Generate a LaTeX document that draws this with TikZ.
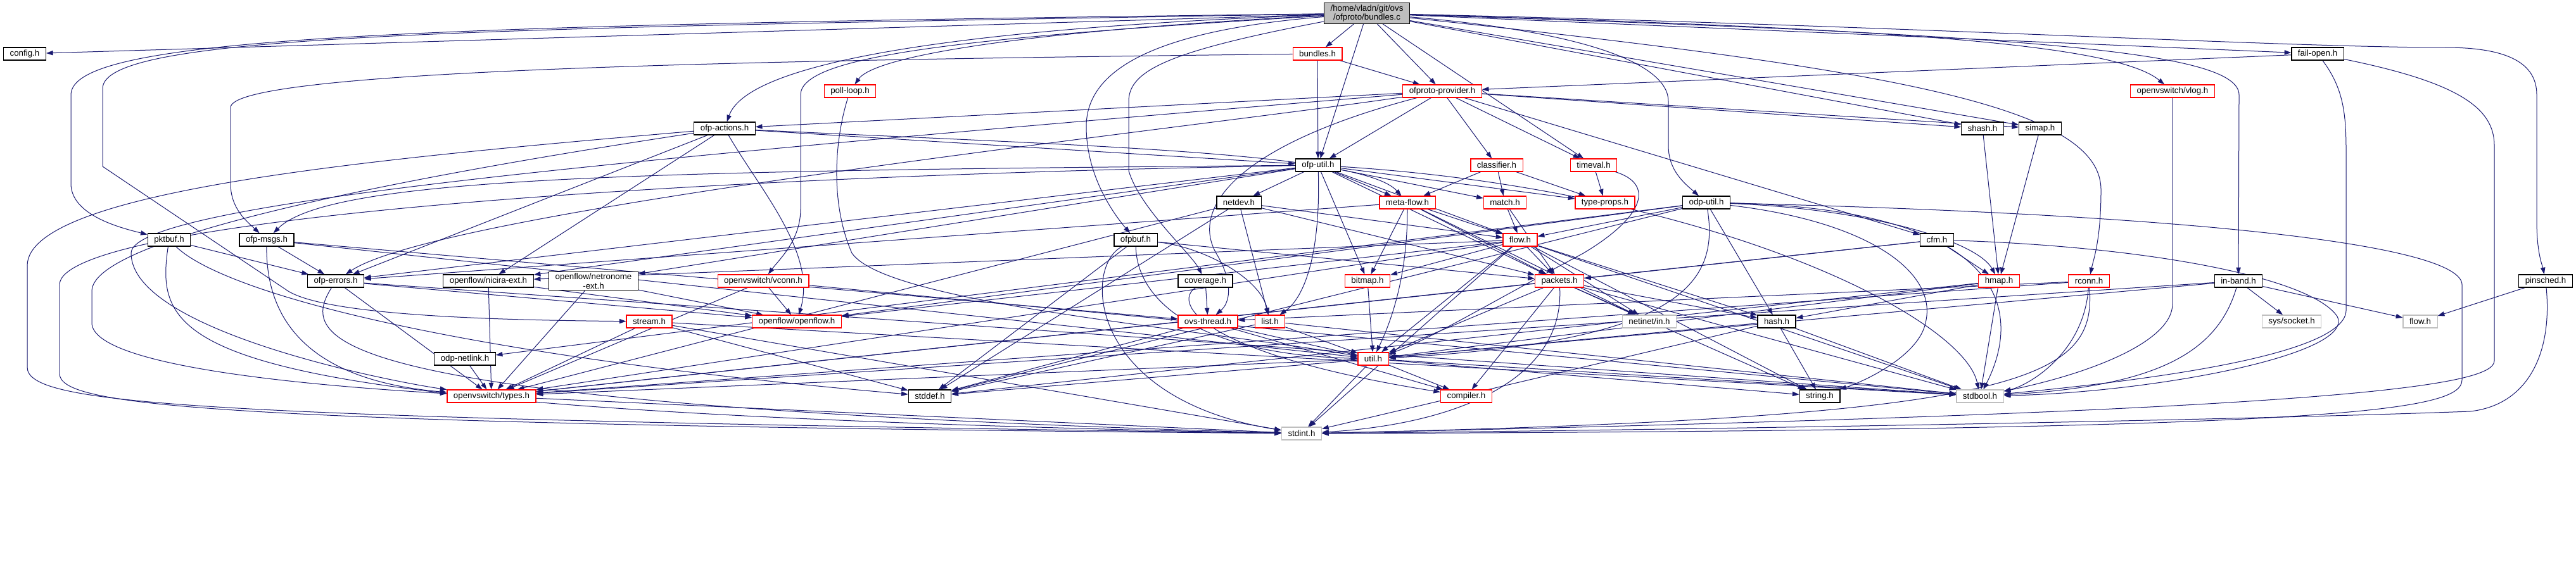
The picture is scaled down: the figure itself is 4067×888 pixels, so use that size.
\documentclass[tikz,border=0pt]{standalone}
\usepackage{fontspec}
\setmainfont{Liberation Sans}
\usetikzlibrary{arrows.meta}
\definecolor{edgeblue}{HTML}{191970}
\definecolor{rootgray}{HTML}{BFBFBF}
\definecolor{sysgray}{HTML}{BFBFBF}
\pgfdeclarelayer{bg}
\pgfsetlayers{bg,main}
\begin{document}
\begin{tikzpicture}[
    x=0.75pt,y=-0.75pt,
    file/.style={draw=black,line width=0.9pt,fill=white,inner xsep=7.5pt,inner ysep=2pt,minimum height=15pt,font=\fontsize{10pt}{11pt}\selectfont},
    trunc/.style={file,draw=red},
    sysh/.style={file,draw=sysgray},
    arr/.style={-{Triangle[length=8pt,width=5.5pt]},draw=edgeblue,line width=0.75pt}
]
\useasboundingbox (0,0) rectangle (4067,888);
\node[file,fill=rootgray,align=center] (root) at (2158,21) {/home/vladn/git/ovs\\/ofproto/bundles.c};
\node[file] (config) at (39,85) {config.h};
\node[trunc] (bundlesh) at (2080,85) {bundles.h};
\node[file] (failopen) at (3659,85) {fail-open.h};
\node[trunc] (pollloop) at (1342,144) {poll-loop.h};
\node[trunc] (provider) at (2277,144) {ofproto-provider.h};
\node[trunc] (vlog) at (3430,144) {openvswitch/vlog.h};
\node[file] (actions) at (1144,203) {ofp-actions.h};
\node[file] (shash) at (3130,203) {shash.h};
\node[file] (simap) at (3221,203) {simap.h};
\node[file] (ofputil) at (2081,261) {ofp-util.h};
\node[trunc] (classifier) at (2363,261) {classifier.h};
\node[trunc] (timeval) at (2516,261) {timeval.h};
\node[file] (netdev) at (1956,320) {netdev.h};
\node[trunc] (metaflow) at (2222,320) {meta-flow.h};
\node[trunc] (match) at (2376,320) {match.h};
\node[trunc] (typeprops) at (2534,320) {type-props.h};
\node[file] (odputil) at (2694,320) {odp-util.h};
\node[file] (pktbuf) at (267,379) {pktbuf.h};
\node[file] (msgs) at (421,379) {ofp-msgs.h};
\node[file] (ofpbuf) at (1793,379) {ofpbuf.h};
\node[trunc] (flow) at (2400,379) {flow.h};
\node[file] (cfm) at (3058,379) {cfm.h};
\node[file] (errors) at (530,444) {ofp-errors.h};
\node[file] (nicira) at (771,444) {openflow/nicira-ext.h};
\node[file,align=center] (netronome) at (937,444) {openflow/netronome\\-ext.h};
\node[trunc] (vconn) at (1205,444) {openvswitch/vconn.h};
\node[file] (coverage) at (1903,444) {coverage.h};
\node[trunc] (bitmap) at (2159,444) {bitmap.h};
\node[trunc] (packets) at (2462,444) {packets.h};
\node[trunc] (hmap) at (3156,444) {hmap.h};
\node[trunc] (rconn) at (3298,444) {rconn.h};
\node[file] (inband) at (3534,444) {in-band.h};
\node[file] (pinsched) at (4019,444) {pinsched.h};
\node[trunc] (stream) at (1025,508) {stream.h};
\node[trunc] (openflow) at (1258,508) {openflow/openflow.h};
\node[trunc] (thread) at (1907,508) {ovs-thread.h};
\node[trunc] (list) at (2005,508) {list.h};
\node[sysh] (netinet) at (2604,508) {netinet/in.h};
\node[file] (hash) at (2805,508) {hash.h};
\node[sysh] (socket) at (3618,508) {sys/socket.h};
\node[sysh] (flowsys) at (3821,508) {flow.h};
\node[file] (netlink) at (734,567) {odp-netlink.h};
\node[trunc] (util) at (2168,567) {util.h};
\node[trunc] (types) at (776,626) {openvswitch/types.h};
\node[file] (stddef) at (1468,626) {stddef.h};
\node[trunc] (compiler) at (2315,626) {compiler.h};
\node[file] (string) at (2873,626) {string.h};
\node[sysh] (stdbool) at (3126,626) {stdbool.h};
\node[sysh] (stdint) at (2055,685) {stdint.h};
\begin{pgfonlayer}{bg}
\draw[arr] (root) -- (config);
\draw[arr] (root) .. controls (600,40) and (112,60) .. (112,150) -- (112,290) .. controls (112,340) and (190,360) .. (pktbuf);
\draw[arr] (root) .. controls (700,45) and (162,55) .. (162,140) -- (162,263) -- (455,460) .. controls (520,500) and (800,506) .. (stream);
\draw[arr] (root) .. controls (1500,45) and (1180,100) .. (actions);
\draw[arr] (root) .. controls (1600,50) and (1380,90) .. (pollloop);
\draw[arr] (root) -- (bundlesh);
\draw[arr] (root) -- (provider);
\draw[arr] (root) -- (ofputil);
\draw[arr] (root) -- (timeval);
\draw[arr] (root) .. controls (1800,50) and (1715,120) .. (1715,200) .. controls (1715,280) and (1760,340) .. (ofpbuf);
\draw[arr] (root) .. controls (1850,80) and (1782,110) .. (1782,160) -- (1782,270) .. controls (1800,330) and (1880,400) .. (coverage);
\draw[arr] (root) .. controls (1500,60) and (1264,90) .. (1264,150) -- (1264,330) .. controls (1264,380) and (1230,410) .. (vconn);
\draw[arr] (root) .. controls (2500,50) and (2634,100) .. (2634,160) -- (2634,230) .. controls (2634,270) and (2660,290) .. (odputil);
\draw[arr] (root) -- (shash);
\draw[arr] (root) -- (simap);
\draw[arr] (root) .. controls (3000,110) and (3317,170) .. (3317,300) .. controls (3317,380) and (3305,410) .. (rconn);
\draw[arr] (root) .. controls (3000,45) and (3340,70) .. (vlog);
\draw[arr] (root) -- (failopen);
\draw[arr] (root) .. controls (3200,55) and (3535,80) .. (3535,150) -- (inband);
\draw[arr] (root) .. controls (3000,40) and (3600,75) .. (3860,75) .. controls (3960,75) and (4005,100) .. (4005,150) -- (4005,350) .. controls (4005,400) and (4014,420) .. (pinsched);
\draw[arr] (bundlesh) -- (provider);
\draw[arr] (bundlesh) -- (ofputil);
\draw[arr] (bundlesh) .. controls (1200,95) and (364,110) .. (364,170) -- (364,290) .. controls (364,330) and (390,350) .. (msgs);
\draw[arr] (failopen) -- (provider);
\draw[arr] (failopen) .. controls (3700,140) and (3704,180) .. (3704,240) -- (3704,490) .. controls (3704,560) and (3400,600) .. (stdbool);
\draw[arr] (failopen) .. controls (3880,130) and (3938,170) .. (3938,230) -- (3938,570) .. controls (3938,610) and (3700,650) .. (stdint);
\draw[arr] (pollloop) .. controls (1318,220) and (1310,320) .. (1345,400) .. controls (1400,480) and (1900,520) .. (util);
\draw[arr] (provider) -- (actions);
\draw[arr] (provider) -- (ofputil);
\draw[arr] (provider) -- (classifier);
\draw[arr] (provider) -- (timeval);
\draw[arr] (provider) -- (cfm);
\draw[arr] (provider) -- (shash);
\draw[arr] (provider) -- (simap);
\draw[arr] (provider) .. controls (1900,200) and (700,330) .. (errors);
\draw[arr] (provider) .. controls (1950,230) and (1880,330) .. (1920,400) .. controls (1950,450) and (1940,480) .. (thread);
\draw[arr] (provider) .. controls (1000,250) and (207,320) .. (207,400) .. controls (207,520) and (600,600) .. (types);
\draw[arr] (vlog) -- (3430,480) .. controls (3430,540) and (3300,590) .. (stdbool);
\draw[arr] (actions) -- (ofputil);
\draw[arr] (actions) .. controls (1700,230) and (2150,240) .. (metaflow);
\draw[arr] (actions) -- (errors);
\draw[arr] (actions) -- (nicira);
\draw[arr] (actions) .. controls (1200,300) and (1290,400) .. (openflow);
\draw[arr] (actions) .. controls (600,250) and (43,300) .. (43,420) -- (43,580) .. controls (43,640) and (300,660) .. (stdint);
\draw[arr] (actions) .. controls (700,270) and (145,370) .. (145,460) -- (145,510) .. controls (145,580) and (500,610) .. (types);
\draw[arr] (shash) -- (hmap);
\draw[arr] (simap) -- (hmap);
\draw[arr] (ofputil) -- (netdev);
\draw[arr] (ofputil) -- (metaflow);
\draw[arr] (ofputil) -- (match);
\draw[arr] (ofputil) -- (typeprops);
\draw[arr] (ofputil) -- (flow);
\draw[arr] (ofputil) -- (bitmap);
\draw[arr] (ofputil) .. controls (2085,400) and (2060,470) .. (list);
\draw[arr] (ofputil) -- (packets);
\draw[arr] (ofputil) -- (errors);
\draw[arr] (ofputil) .. controls (1000,270) and (520,280) .. (msgs);
\draw[arr] (ofputil) -- (nicira);
\draw[arr] (ofputil) -- (netronome);
\draw[arr] (ofputil) .. controls (2700,300) and (3100,500) .. (stdbool);
\draw[arr] (ofputil) .. controls (1000,280) and (94,350) .. (94,450) -- (94,590) .. controls (94,640) and (300,670) .. (stdint);
\draw[arr] (classifier) -- (metaflow);
\draw[arr] (classifier) -- (match);
\draw[arr] (classifier) -- (typeprops);
\draw[arr] (timeval) -- (typeprops);
\draw[arr] (timeval) .. controls (2610,290) and (2600,340) .. (2500,400) .. controls (2350,480) and (2250,540) .. (util);
\draw[arr] (netdev) -- (flow);
\draw[arr] (netdev) -- (packets);
\draw[arr] (netdev) -- (list);
\draw[arr] (netdev) -- (types);
\draw[arr] (netdev) -- (stddef);
\draw[arr] (metaflow) -- (bitmap);
\draw[arr] (metaflow) .. controls (2222,430) and (2200,500) .. (util);
\draw[arr] (metaflow) -- (flow);
\draw[arr] (metaflow) -- (packets);
\draw[arr] (metaflow) -- (errors);
\draw[arr] (metaflow) -- (netinet);
\draw[arr] (match) -- (flow);
\draw[arr] (match) -- (packets);
\draw[arr] (odputil) .. controls (2950,330) and (3120,380) .. (hmap);
\draw[arr] (odputil) -- (flow);
\draw[arr] (odputil) -- (hash);
\draw[arr] (odputil) .. controls (2715,450) and (2650,540) .. (util);
\draw[arr] (odputil) .. controls (3150,330) and (3200,480) .. (stdbool);
\draw[arr] (odputil) .. controls (2950,350) and (3060,430) .. (3040,510) .. controls (3030,560) and (2950,600) .. (string);
\draw[arr] (odputil) -- (stddef);
\draw[arr] (odputil) -- (netlink);
\draw[arr] (odputil) -- (openflow);
\draw[arr] (odputil) .. controls (3500,340) and (3887,390) .. (3887,450) -- (3887,600) .. controls (3887,650) and (3700,680) .. (stdint);
\draw[arr] (pktbuf) -- (errors);
\draw[arr] (pktbuf) .. controls (350,460) and (700,560) .. (stddef);
\draw[arr] (pktbuf) .. controls (240,560) and (300,650) .. (stdint);
\draw[arr] (msgs) -- (errors);
\draw[arr] (msgs) .. controls (420,500) and (480,600) .. (types);
\draw[arr] (msgs) -- (thread);
\draw[arr] (msgs) -- (util);
\draw[arr] (ofpbuf) .. controls (1900,390) and (1990,440) .. (list);
\draw[arr] (ofpbuf) -- (packets);
\draw[arr] (ofpbuf) .. controls (1795,480) and (1900,560) .. (util);
\draw[arr] (ofpbuf) -- (stddef);
\draw[arr] (ofpbuf) .. controls (1710,420) and (1715,630) .. (stdint);
\draw[arr] (flow) -- (bitmap);
\draw[arr] (flow) -- (packets);
\draw[arr] (flow) -- (util);
\draw[arr] (flow) -- (netinet);
\draw[arr] (flow) -- (stdint);
\draw[arr] (flow) -- (nicira);
\draw[arr] (flow) -- (openflow);
\draw[arr] (flow) -- (hash);
\draw[arr] (flow) -- (string);
\draw[arr] (flow) -- (stdbool);
\draw[arr] (flow) -- (types);
\draw[arr] (cfm) -- (hmap);
\draw[arr] (cfm) -- (packets);
\draw[arr] (cfm) -- (types);
\draw[arr] (cfm) .. controls (3400,390) and (3650,440) .. (3690,500) .. controls (3720,560) and (3400,620) .. (stdbool);
\draw[arr] (errors) -- (openflow);
\draw[arr] (errors) -- (stdbool);
\draw[arr] (errors) -- (types);
\draw[arr] (errors) .. controls (470,540) and (500,640) .. (stdint);
\draw[arr] (nicira) -- (openflow);
\draw[arr] (nicira) -- (types);
\draw[arr] (netronome) -- (openflow);
\draw[arr] (netronome) -- (types);
\draw[arr] (vconn) -- (openflow);
\draw[arr] (vconn) -- (types);
\draw[arr] (vconn) -- (stdbool);
\draw[arr] (coverage) -- (thread);
\draw[arr] (coverage) .. controls (1850,480) and (1900,560) .. (compiler);
\draw[arr] (bitmap) -- (util);
\draw[arr] (packets) -- (util);
\draw[arr] (packets) -- (compiler);
\draw[arr] (packets) -- (netinet);
\draw[arr] (packets) -- (hash);
\draw[arr] (packets) -- (types);
\draw[arr] (packets) -- (string);
\draw[arr] (packets) -- (stdbool);
\draw[arr] (packets) .. controls (2470,600) and (2300,670) .. (stdint);
\draw[arr] (hmap) -- (hash);
\draw[arr] (hmap) -- (util);
\draw[arr] (hmap) -- (stdbool);
\draw[arr] (hmap) -- (stddef);
\draw[arr] (rconn) -- (thread);
\draw[arr] (rconn) -- (types);
\draw[arr] (rconn) .. controls (3290,560) and (3200,610) .. (stdbool);
\draw[arr] (rconn) .. controls (3310,600) and (3200,660) .. (stdint);
\draw[arr] (inband) -- (socket);
\draw[arr] (inband) -- (flowsys);
\draw[arr] (inband) .. controls (3500,560) and (3400,610) .. (stdbool);
\draw[arr] (inband) -- (util);
\draw[arr] (inband) -- (types);
\draw[arr] (pinsched) -- (flowsys);
\draw[arr] (pinsched) .. controls (4030,560) and (3990,640) .. (3900,650) .. controls (3500,665) and (2600,680) .. (stdint);
\draw[arr] (stream) -- (types);
\draw[arr] (stream) -- (stddef);
\draw[arr] (stream) -- (stdint);
\draw[arr] (stream) -- (stdbool);
\draw[arr] (thread) -- (util);
\draw[arr] (thread) -- (stddef);
\draw[arr] (thread) -- (compiler);
\draw[arr] (list) -- (util);
\draw[arr] (list) -- (stddef);
\draw[arr] (list) -- (stdbool);
\draw[arr] (hash) -- (util);
\draw[arr] (hash) -- (string);
\draw[arr] (hash) -- (stdbool);
\draw[arr] (hash) -- (stdint);
\draw[arr] (netlink) -- (types);
\draw[arr] (util) -- (compiler);
\draw[arr] (util) -- (stdint);
\draw[arr] (util) -- (stddef);
\draw[arr] (util) -- (types);
\draw[arr] (util) -- (string);
\draw[arr] (util) -- (stdbool);
\draw[arr] (types) -- (stdint);
\end{pgfonlayer}
\end{tikzpicture}
\end{document}
